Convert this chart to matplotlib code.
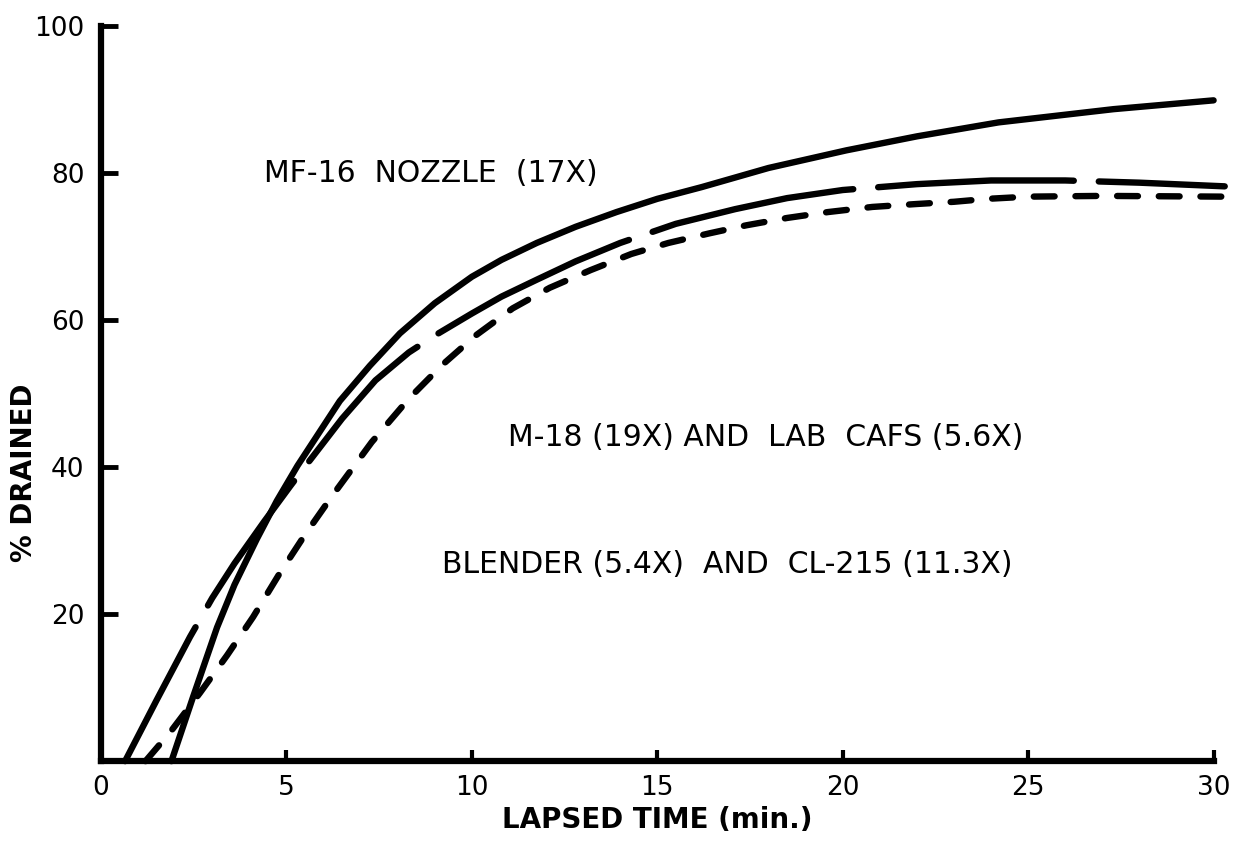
import matplotlib
matplotlib.use('Agg')
import matplotlib.pyplot as plt

# Lapsed time (min) and % drained
t_mf16 = [1.9, 2.48, 3.13, 3.6, 4.2, 4.74, 5.3, 6.44, 7.25, 8.06, 9.0, 10.0,
          10.8, 11.75, 12.8, 13.9, 15.0, 16.2, 18.0, 20.1, 22.0, 24.2, 27.3, 30.0]
p_mf16 = [0, 8.7, 18.2, 24.0, 30.2, 35.4, 40.2, 49.0, 53.8, 58.2, 62.3, 65.9,
          68.2, 70.5, 72.7, 74.7, 76.5, 78.1, 80.7, 83.1, 85.0, 86.9, 88.7, 89.9]

t_m18 = [0.65, 1.5, 2.4, 3.0, 3.6, 4.4, 5.1, 5.4, 6.5, 7.4, 8.3, 9.0, 10.0,
         10.8, 11.75, 12.8, 14.0, 15.5, 17.1, 18.5, 20.0, 22.0, 24.0, 26.0,
         28.0, 30.3]
p_m18 = [0, 8.3, 16.9, 22.2, 26.9, 32.6, 37.4, 39.4, 46.6, 51.8, 55.6, 57.9,
         60.9, 63.2, 65.5, 68.0, 70.5, 73.1, 75.1, 76.6, 77.7, 78.5, 79.0, 79.0,
         78.7, 78.2]

t_blender = [1.2, 1.86, 2.67, 3.4, 4.1, 4.8, 5.5, 6.25, 7.3, 8.3, 9.2, 10.1,
             11.1, 12.1, 13.2, 14.3, 15.3, 16.4, 17.4, 18.5, 19.6, 20.8,
             22.0, 23.0, 23.9, 25.0, 27.0, 30.3]
p_blender = [0, 3.9, 9.3, 14.4, 19.6, 25.4, 30.8, 36.2, 43.4, 49.3, 53.9, 57.9,
             61.6, 64.4, 66.8, 69.0, 70.5, 71.8, 72.9, 73.9, 74.7, 75.4,
             75.8, 76.1, 76.5, 76.8, 76.9, 76.8]

x_ticks = [0, 5, 10, 15, 20, 25, 30]
y_ticks = [20, 40, 60, 80, 100]

labels = {
    'mf16': 'MF-16  NOZZLE  (17X)',
    'm18': 'M-18 (19X) AND  LAB  CAFS (5.6X)',
    'blender': 'BLENDER (5.4X)  AND  CL-215 (11.3X)',
}

plt.rcParams['font.family'] = ['DejaVu Sans']
plt.rcParams['lines.scale_dashes'] = False

fig = plt.figure(figsize=(12.39, 8.42), dpi=100)
ax = fig.add_axes([0.0815, 0.096, 0.898, 0.873])

lw = 4.6
# hand-drawn long dashes: uneven lengths, short gaps
long_dash = (0, (109, 18, 109, 18, 114, 18, 153, 18, 148, 18, 141, 18, 300, 18))

ax.plot(t_mf16, p_mf16, color='black', lw=lw, solid_capstyle='round',
        solid_joinstyle='round', clip_on=False)
ax.plot(t_m18, p_m18, color='black', lw=lw, linestyle=long_dash,
        dash_capstyle='round', dash_joinstyle='round', clip_on=False)
ax.plot(t_blender, p_blender, color='black', lw=lw, linestyle=(0, (15, 15)),
        dash_capstyle='round', dash_joinstyle='round', clip_on=False)

ax.set_xlim(0, 30)
ax.set_ylim(0, 100)
ax.set_xticks(x_ticks)
ax.set_yticks(y_ticks)

for s in ['top', 'right']:
    ax.spines[s].set_visible(False)
for s in ['left', 'bottom']:
    ax.spines[s].set_linewidth(4.5)

ax.tick_params(axis='y', direction='in', length=12, width=3.5, pad=12, labelsize=19)
ax.tick_params(axis='x', direction='in', length=8, width=3, pad=10, labelsize=19)

ax.set_xlabel('LAPSED TIME (min.)', fontsize=20, fontweight='bold')
ax.xaxis.set_label_coords(0.5, -0.08)
ax.xaxis.label.set_va('center')
ax.set_ylabel('% DRAINED', fontsize=20, fontweight='bold')
ax.yaxis.set_label_coords(-0.069, 0.392)
ax.yaxis.label.set_va('center')

ax.text(4.4, 80, labels['mf16'], fontsize=21.5, ha='left', va='center')
ax.text(10.97, 44.1, labels['m18'], fontsize=21.5, ha='left', va='center')
ax.text(9.19, 26.7, labels['blender'], fontsize=21.5, ha='left', va='center')

fig.savefig('out.png', dpi=100)
